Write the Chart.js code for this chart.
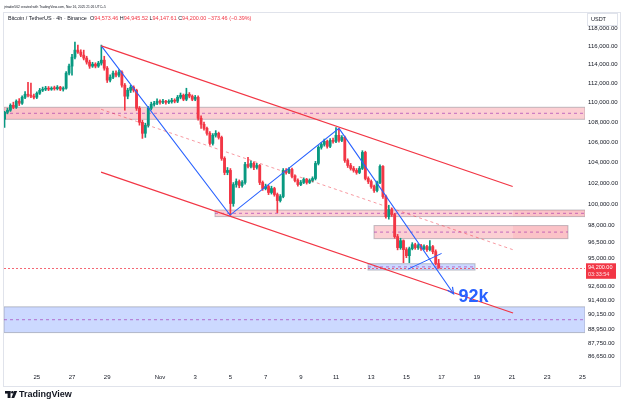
<!DOCTYPE html>
<html>
<head>
<meta charset="utf-8">
<script src="https://cdn.jsdelivr.net/npm/chart.js@4.4.1/dist/chart.umd.min.js"></script>
<style>
  html, body { margin: 0; padding: 0; background: #fff; }
  canvas { display: block; }
</style>
</head>
<body>
<canvas id="chart" width="625" height="409"></canvas>
<script>
// BTC/USDT 4h (Binance), Oct 23 04:00 -> Nov 16 20:00, UTC+5
// x unit = days from Nov 1 00:00
const firstCandleDay = -8.8333;

const opens = [
  108300,109010,109220,109730,109520,110150,109940,110560,110870,110770,
  110670,110560,110980,111290,111400,111500,111400,111500,111450,111610,
  111400,111500,113090,113840,114800,115560,115350,115020,114700,114270,
  113840,114050,113840,114160,114480,113620,112350,112660,113090,112880,
  113200,111820,110670,111290,111610,111290,109420,107990,106880,107680,
  109420,109830,109940,110150,110040,110150,110040,110100,110250,110150,
  110560,110770,110350,110870,110670,110350,110560,108400,107790,107380,
  106880,105870,106680,106880,106470,104390,103020,103220,100060,101860,
  102150,101770,102060,103800,103610,103900,103510,103700,102060,101480,
  101670,101100,101480,100910,100340,100720,103220,103020,103310,102640,
  102250,101860,102060,102350,102060,102250,102440,103900,105480,105770,
  106070,105580,106170,106070,106680,106170,106470,104190,103700,103410,
  103220,103020,103410,104980,102440,102150,101670,101290,102060,103610,
  100720,98840,99490,99030,97000,96000,96630,95820,95280,95910,
  96270,96000,96180,95910,96090,95820,96090,95640,94573.46
];
const highs = [
  109120,109430,109880,110050,110290,110420,110700,111150,112130,112030,
  110900,111120,111480,111620,111700,111680,111650,111720,111780,111700,
  111650,113250,114050,115100,116440,116110,115600,115560,114900,114480,
  114250,114200,114350,116110,114900,113800,112900,113300,113350,113450,
  113350,112000,111500,111800,111750,111400,109600,108200,107900,109600,
  110050,110150,110400,110300,110350,110250,110300,110450,110400,110750,
  111000,110900,111500,111050,110800,110750,110700,108650,108000,107500,
  107050,106850,107150,107000,106600,104550,103500,103400,102050,102400,
  102300,102250,104000,104490,104150,104050,103900,103800,102200,101900,
  101800,101700,101600,101050,100900,103400,103400,103500,103450,102800,
  102400,102250,102500,102450,102400,102600,104100,105650,105950,106300,
  106200,106350,106400,107450,107300,106650,106600,104350,103900,103600,
  103400,103600,105150,105100,102600,102300,101800,102200,103750,103700,
  100850,99900,99650,99150,97200,96850,96700,96000,96050,96450,
  96400,96350,96300,96250,96200,96630,96200,95800,94945.52
];
const lows = [
  107480,108850,109100,109380,109400,109700,109820,110410,110600,110520,
  110380,110420,110850,111150,111250,111250,111280,111300,111320,111250,
  111200,111400,112900,112880,114600,115200,114850,114500,114050,113600,
  113700,113650,113700,113950,113400,112100,112150,112500,112700,112700,
  111600,109220,110400,111050,111100,109200,107700,106370,106470,107500,
  109250,109650,109800,109850,109900,109850,109900,109950,109980,110000,
  110400,110200,110200,110500,110200,110200,108200,107380,107200,106700,
  105700,105700,106500,106300,104200,102800,102800,98950,99800,101600,
  101550,101600,101900,103450,103450,103300,103350,101850,101300,101350,
  100900,100950,100750,99210,100200,100600,102850,102900,102500,102100,
  101700,101750,101950,101900,101950,102100,102300,103750,105300,105600,
  105400,105450,105900,105950,106000,106050,104000,103500,103250,103050,
  102850,102900,103300,102300,101950,101500,101100,101150,101950,100550,
  98700,98600,98850,96850,95800,95850,94650,95100,94650,95800,
  95850,95850,95750,95800,95650,95700,95450,94450,94147.61
];
const closes = [
  109010,109220,109730,109520,110150,109940,110560,110870,110770,110670,
  110560,110980,111290,111400,111500,111400,111500,111450,111610,111400,
  111500,113090,113840,114800,115560,115350,115020,114700,114270,113840,
  114050,113840,114160,114480,113620,112350,112660,113090,112880,113200,
  111820,110670,111290,111610,111290,109420,107990,106880,107680,109420,
  109830,109940,110150,110040,110150,110040,110100,110250,110150,110560,
  110770,110350,110870,110670,110350,110560,108400,107790,107380,106880,
  105870,106680,106880,106470,104390,103020,103220,100060,101860,102150,
  101770,102060,103800,103610,103900,103510,103700,102060,101480,101670,
  101100,101480,100910,100340,100720,103220,103020,103310,102640,102250,
  101860,102060,102350,102060,102250,102440,103900,105480,105770,106070,
  105580,106170,106070,106680,106170,106470,104190,103700,103410,103220,
  103020,103410,104980,102440,102150,101670,101290,102060,103610,100720,
  98840,99490,99030,97000,96000,96630,95820,95280,95910,96270,
  96000,96180,95910,96090,95820,96090,95640,94573.46,94200
];

// axes
const xMin = -8.864, xMax = 24.148;
const yMin = 85660, yMax = 119774;
const tickDays = [-7, -5, -3, 0, 2, 4, 6, 8, 10, 12, 14, 16, 18, 20, 22, 24];
const tickLabels = ['25', '27', '29', 'Nov', '3', '5', '7', '9', '11', '13', '15', '17', '19', '21', '23', '25'];
const priceTicks = [118000, 116000, 114000, 112000, 110000, 108000, 106000, 104000, 102000,
  100000, 98000, 96500, 95000, 92600, 91400, 90150, 88950, 87750, 86650];

// drawings (day, price)
const upperDays = [-3.335, 20.04],  upperPrices = [116030, 101670];
const lowerDays = [-3.35, 20.06],   lowerPrices = [103050, 90280];
const midDays = [-3.35, 20.04],     midPrices = [109320, 95820];
const waveDays = [-3.335, 3.98, 10.17, 16.68];
const wavePrices = [116030, 98980, 107380, 91930];
const legDays = [14.11, 16.0], legPrices = [94090, 95480];

const zoneFrom = [-8.864, 3.125, 12.16, 11.82, -8.864];
const zoneTo   = [24.148, 24.148, 23.18, 17.90, 24.148];
const zoneTop  = [109525, 99450, 98010, 94560, 90810];
const zoneBot  = [108295, 98840, 96815, 94000, 88640];
const zoneKind = ['red', 'red', 'red', 'blue', 'blue'];
// darker overlapping parts
const shadeFrom = [-8.864, 20.06, 20.06];
const shadeTo   = [-3.4, 24.148, 23.18];
const shadeTop  = [109525, 99450, 98010];
const shadeBot  = [108295, 98840, 96815];

const UP = '#089981', DOWN = '#f23645', BLUE = '#2962ff';
const FONT = '"Liberation Sans", Arial, sans-serif';

const candleTimes = closes.map((_, i) => firstCandleDay + i / 6);
const candleColors = closes.map((c, i) => c >= opens[i] ? UP : DOWN);
const pts = (ds, ps) => ds.map((d, i) => ({ x: d, y: ps[i] }));

function lineSet(data, color, width, dash) {
  return {
    type: 'line', data, borderColor: color, borderWidth: width, borderDash: dash || [],
    pointRadius: 0, fill: false, tension: 0, order: 0
  };
}

const drawings = {
  id: 'drawings',
  beforeDatasetsDraw(chart) {
    const { ctx, chartArea: a, scales: { x, y } } = chart;
    ctx.save();
    ctx.beginPath();
    ctx.rect(a.left, a.top, a.right - a.left, a.bottom - a.top);
    ctx.clip();
    zoneFrom.forEach((f, i) => {
      const x0 = x.getPixelForValue(f), x1 = x.getPixelForValue(zoneTo[i]);
      const y0 = y.getPixelForValue(zoneTop[i]), y1 = y.getPixelForValue(zoneBot[i]);
      ctx.fillStyle = zoneKind[i] === 'red' ? 'rgba(242,54,69,0.24)' : 'rgba(41,98,255,0.24)';
      ctx.fillRect(x0, y0, x1 - x0, y1 - y0);
      ctx.strokeStyle = 'rgba(120,123,134,0.45)';
      ctx.lineWidth = 1;
      ctx.strokeRect(x0, y0, x1 - x0, y1 - y0);
      ctx.strokeStyle = 'rgba(156,39,176,0.6)';
      ctx.setLineDash([3, 3]);
      ctx.beginPath();
      ctx.moveTo(x0, (y0 + y1) / 2);
      ctx.lineTo(x1, (y0 + y1) / 2);
      ctx.stroke();
      ctx.setLineDash([]);
    });
    shadeFrom.forEach((f, i) => {
      const x0 = x.getPixelForValue(f), x1 = x.getPixelForValue(shadeTo[i]);
      const y0 = y.getPixelForValue(shadeTop[i]), y1 = y.getPixelForValue(shadeBot[i]);
      ctx.fillStyle = 'rgba(242,54,69,0.08)';
      ctx.fillRect(x0, y0, x1 - x0, y1 - y0);
    });
    // last price line
    const py = Math.round(y.getPixelForValue(closes[closes.length - 1])) + 0.5;
    ctx.strokeStyle = 'rgba(242,54,69,0.75)';
    ctx.setLineDash([2, 2]);
    ctx.beginPath();
    ctx.moveTo(a.left, py);
    ctx.lineTo(a.right, py);
    ctx.stroke();
    ctx.restore();
  },
  afterDatasetsDraw(chart) {
    const { ctx, scales: { x, y } } = chart;
    const n = waveDays.length;
    const cx = x.getPixelForValue(waveDays[n - 2]), cy = y.getPixelForValue(wavePrices[n - 2]);
    const dx = x.getPixelForValue(waveDays[n - 1]), dy = y.getPixelForValue(wavePrices[n - 1]);
    const ang = Math.atan2(dy - cy, dx - cx);
    ctx.save();
    ctx.strokeStyle = BLUE;
    ctx.lineWidth = 1.2;
    ctx.beginPath();
    ctx.moveTo(dx - 7 * Math.cos(ang - 0.45), dy - 7 * Math.sin(ang - 0.45));
    ctx.lineTo(dx, dy);
    ctx.lineTo(dx - 7 * Math.cos(ang + 0.45), dy - 7 * Math.sin(ang + 0.45));
    ctx.stroke();
    ctx.fillStyle = BLUE;
    ctx.font = 'bold 18px ' + FONT;
    ctx.textBaseline = 'alphabetic';
    ctx.fillText('92k', dx + 5, dy + 8);
    ctx.restore();
  },
  afterDraw(chart) {
    const { ctx, chartArea: a, scales: { y } } = chart;
    ctx.save();
    // frame
    ctx.strokeStyle = '#e0e3eb';
    ctx.lineWidth = 1;
    ctx.strokeRect(3.5, 12.5, 617, 374);
    // top line
    const l1 = 'jrtrader562 created with TradingView.com, Nov 16, 2025 21:26 UTC+5';
    ctx.font = '10px ' + FONT;
    let s = 10 * 102 / ctx.measureText(l1).width;
    ctx.font = s + 'px ' + FONT;
    ctx.fillStyle = '#131722';
    ctx.textBaseline = 'middle';
    ctx.fillText(l1, 4, 7);
    // legend line
    const parts = [
      ['Bitcoin / TetherUS \u00b7 4h \u00b7 Binance  O', '#131722'], ['94,573.46', DOWN],
      [' H', '#131722'], ['94,945.52', DOWN], [' L', '#131722'], ['94,147.61', DOWN],
      [' C', '#131722'], ['94,200.00', DOWN], [' \u2212373.46 (\u22120.39%)', DOWN]
    ];
    ctx.font = '10px ' + FONT;
    const w10 = parts.reduce((t, p) => t + ctx.measureText(p[0]).width, 0);
    s = 10 * 244 / w10;
    ctx.font = s + 'px ' + FONT;
    let tx = 8;
    parts.forEach(p => {
      ctx.fillStyle = p[1];
      ctx.fillText(p[0], tx, 18.5);
      tx += ctx.measureText(p[0]).width;
    });
    // USDT box
    ctx.fillStyle = '#fff';
    ctx.fillRect(587, 13, 31, 13);
    ctx.strokeStyle = '#e0e3eb';
    ctx.strokeRect(587.5, 13.5, 30, 12);
    ctx.fillStyle = '#131722';
    ctx.font = '5.5px ' + FONT;
    ctx.fillText('USDT', 591, 19.5);
    // price tag
    const py = y.getPixelForValue(closes[closes.length - 1]);
    ctx.fillStyle = DOWN;
    ctx.fillRect(586, py - 4.5, 30, 15.5);
    ctx.fillStyle = '#fff';
    ctx.font = '5.5px ' + FONT;
    ctx.fillText('94,200.00', 588, py);
    ctx.fillStyle = 'rgba(255,255,255,0.85)';
    ctx.fillText('03:33:54', 588, py + 7);
    // logo
    ctx.fillStyle = '#131722';
    ctx.fillRect(5, 391, 5.5, 2.6);
    ctx.fillRect(7.6, 391, 2.9, 7);
    ctx.beginPath();
    ctx.arc(12.4, 392.3, 1.3, 0, Math.PI * 2);
    ctx.fill();
    ctx.beginPath();
    ctx.moveTo(14.2, 391); ctx.lineTo(17.2, 391); ctx.lineTo(14.2, 398); ctx.lineTo(11.4, 398);
    ctx.closePath();
    ctx.fill();
    ctx.font = '600 9px ' + FONT;
    ctx.fillText('TradingView', 19, 395);
    ctx.restore();
  }
};

new Chart(document.getElementById('chart'), {
  type: 'bar',
  data: {
    datasets: [
      lineSet(pts(upperDays, upperPrices), '#f23645', 1.2),
      lineSet(pts(lowerDays, lowerPrices), '#f23645', 1.2),
      lineSet(pts(midDays, midPrices), 'rgba(242,54,69,0.5)', 1, [3, 3]),
      lineSet(pts(waveDays, wavePrices), BLUE, 1.1),
      lineSet(pts(legDays, legPrices), BLUE, 1),
      {
        data: candleTimes.map((t, i) => ({ x: t, y: [lows[i], highs[i]] })),
        backgroundColor: candleColors, barThickness: 1, grouped: false, order: 3
      },
      {
        data: candleTimes.map((t, i) => ({ x: t, y: [opens[i], closes[i]] })),
        backgroundColor: candleColors, barThickness: 2.2, minBarLength: 1, grouped: false, order: 2
      }
    ]
  },
  options: {
    responsive: false,
    animation: false,
    devicePixelRatio: 1,
    layout: { padding: { left: 4, right: 4, top: 12, bottom: 23 } },
    plugins: { legend: { display: false }, tooltip: { enabled: false } },
    scales: {
      x: {
        type: 'linear', min: xMin, max: xMax, bounds: 'data', offset: false,
        grid: { display: false, drawTicks: false }, border: { display: false },
        afterBuildTicks: s => { s.ticks = tickDays.map(v => ({ value: v })); },
        afterFit: s => { s.height = 17; },
        ticks: {
          autoSkip: false, maxRotation: 0, padding: 5, color: '#131722',
          font: { size: 6, family: FONT },
          callback: v => tickLabels[tickDays.indexOf(v)]
        }
      },
      y: {
        type: 'logarithmic', position: 'right', min: yMin, max: yMax, bounds: 'data',
        grid: { display: false, drawTicks: false }, border: { display: false },
        afterBuildTicks: s => { s.ticks = priceTicks.map(v => ({ value: v })); },
        afterFit: s => { s.width = 36; },
        ticks: {
          autoSkip: false, padding: 3, color: '#131722',
          font: { size: 6, family: FONT },
          callback: v => v.toLocaleString('en-US', { minimumFractionDigits: 2, maximumFractionDigits: 2 })
        }
      }
    }
  },
  plugins: [drawings]
});
</script>
</body>
</html>
